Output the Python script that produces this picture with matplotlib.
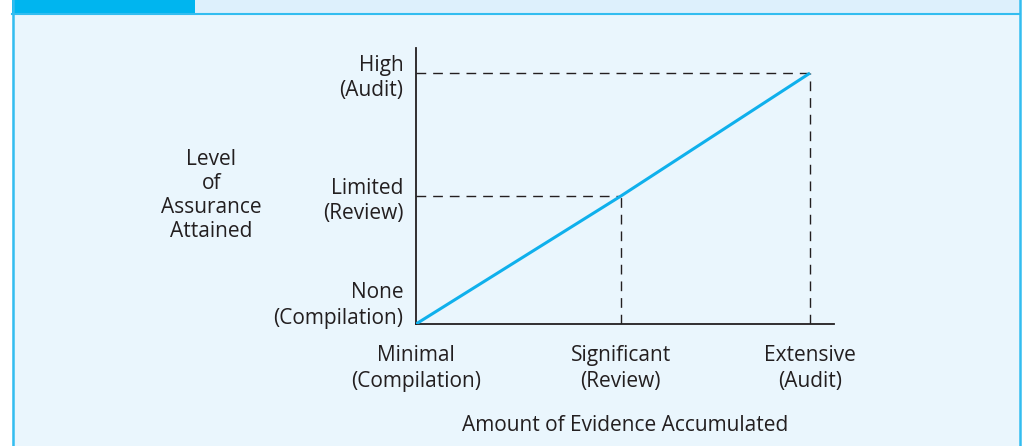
import matplotlib
matplotlib.use("Agg")
import matplotlib.pyplot as plt
from matplotlib.patches import Rectangle
from matplotlib.lines import Line2D

# Data
evidence_levels = [0, 52, 100]          # Minimal, Significant, Extensive
assurance_levels = [0, 51, 100]         # None, Limited, High
x_labels = ["Minimal\n(Compilation)", "Significant\n(Review)", "Extensive\n(Audit)"]
y_labels = ["None\n(Compilation)", "Limited\n(Review)", "High\n(Audit)"]
x_title = "Amount of Evidence Accumulated"
y_title = "Level\nof\nAssurance\nAttained"

plt.rcParams['font.family'] = ['Open Sans', 'DejaVu Sans']
plt.rcParams['font.weight'] = 500

W, H = 1023, 446
fig = plt.figure(figsize=(W / 100, H / 100), dpi=100)
fig.patch.set_facecolor("white")

text_color = "#231f20"
fs = 15
lsp = 1.3

def fx(px):
    return px / W

def fy(py):
    return 1 - py / H

# Panel background
fig.patches.append(Rectangle((fx(12), 0), fx(1020) - fx(12), fy(14), transform=fig.transFigure,
                             facecolor="#eaf6fd", edgecolor="none", zorder=-3))
# header strips
fig.patches.append(Rectangle((fx(12), fy(14)), fx(195) - fx(12), 14 / H, transform=fig.transFigure,
                             facecolor="#00b5ef", edgecolor="none", zorder=-2))
fig.patches.append(Rectangle((fx(195), fy(13)), fx(1020) - fx(195), 13 / H, transform=fig.transFigure,
                             facecolor="#ddf0fc", edgecolor="none", zorder=-2))
border = "#33bdf0"
fig.lines.append(Line2D([fx(12), fx(1020)], [fy(13.5), fy(13.5)], transform=fig.transFigure,
                        color=border, lw=1.5, zorder=-1))
fig.lines.append(Line2D([fx(12.5), fx(12.5)], [0, 1], transform=fig.transFigure,
                        color=border, lw=1.8, zorder=-1))
fig.lines.append(Line2D([fx(1019.5), fx(1019.5)], [0, fy(0)], transform=fig.transFigure,
                        color=border, lw=1.8, zorder=-1))

ax = fig.add_axes([fx(416), fy(324), fx(834) - fx(416), fy(48) - fy(324)])
ax.set_zorder(5)
ax.set_facecolor("none")
ax.set_xlim(0, 106.1)
ax.set_ylim(0, 110)

for s in ["top", "right"]:
    ax.spines[s].set_visible(False)
for s in ["left", "bottom"]:
    ax.spines[s].set_color(text_color)
    ax.spines[s].set_linewidth(1.3)

# main line
ax.plot(evidence_levels, assurance_levels, color="#0fb0ec", lw=2.2, solid_capstyle="butt", zorder=3)

# dashed guides
for xv, yv in zip(evidence_levels[1:], assurance_levels[1:]):
    ax.plot([0, xv], [yv, yv], color=text_color, lw=1.0, ls=(0, (7, 5)), zorder=2)
    ax.plot([xv, xv], [0, yv], color=text_color, lw=1.0, ls=(0, (7, 5)), zorder=2)

ax.set_xticks(evidence_levels)
ax.set_xticklabels(x_labels, fontsize=fs, color=text_color, linespacing=lsp)
ax.set_yticks(assurance_levels)
ax.set_yticklabels(y_labels, fontsize=fs, color=text_color, linespacing=lsp, ha="right")
ax.tick_params(axis="both", length=0)
ax.tick_params(axis="x", pad=15)
ax.tick_params(axis="y", pad=9)
ylabs = ax.get_yticklabels()
ylabs[0].set_va("baseline")
for t in ax.get_xticklabels():
    t.set_ha("center")

ax.set_xlabel(x_title, fontsize=fs, color=text_color, labelpad=17)
ax.set_ylabel(y_title, fontsize=fs, color=text_color, rotation=0, linespacing=1.2,
              ha="center", va="center")
ax.yaxis.set_label_coords(-0.49, 0.465)

fig.savefig("out.png", dpi=100, facecolor=fig.get_facecolor())
